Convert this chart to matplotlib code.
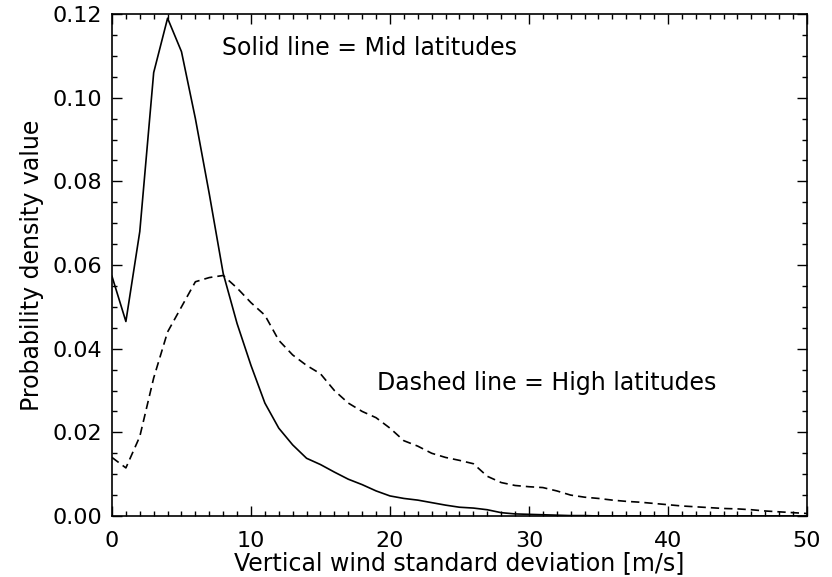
import numpy as np
import matplotlib
matplotlib.use('Agg')
import matplotlib.pyplot as plt
from matplotlib.ticker import MultipleLocator

# wind speed std dev bins [m/s]
x = np.arange(0, 51)

# solid line, mid latitudes
mid = [0.0573, 0.0465, 0.068, 0.106, 0.119, 0.111, 0.095, 0.077, 0.058, 0.046,
       0.036, 0.027, 0.021, 0.017, 0.0138, 0.0123, 0.0105, 0.0088, 0.0075, 0.006,
       0.0048, 0.0042, 0.0038, 0.0032, 0.0026, 0.0021, 0.0019, 0.0015, 0.0008, 0.0005,
       0.0004, 0.0003, 0.0002, 0.0001, 0.0001, 0.0, 0.0, 0.0, 0.0, 0.0,
       0.0, 0.0, 0.0, 0.0, 0.0, 0.0, 0.0, 0.0, 0.0, 0.0, 0.0]

# dashed line, high latitudes
high = [0.014, 0.0115, 0.019, 0.033, 0.044, 0.050, 0.056, 0.057, 0.0575, 0.0545,
        0.051, 0.048, 0.042, 0.0385, 0.036, 0.034, 0.030, 0.027, 0.025, 0.0235,
        0.021, 0.018, 0.0167, 0.015, 0.014, 0.0133, 0.0125, 0.0095, 0.008, 0.0073,
        0.007, 0.0068, 0.006, 0.005, 0.0045, 0.0042, 0.0038, 0.0035, 0.0033, 0.003,
        0.0027, 0.0024, 0.0022, 0.002, 0.0018, 0.0017, 0.0015, 0.0012, 0.001, 0.0008,
        0.0006]

fig = plt.figure(figsize=(8.32, 5.77), dpi=100)
ax = fig.add_axes([0.1346, 0.1057, 0.8353, 0.870])

ax.plot(x, mid, color='k', lw=1.2)
ax.plot(x, high, color='k', lw=1.2, linestyle=(0, (5, 3)))

ax.set_xlim(0, 50)
ax.set_ylim(0, 0.12)
ax.xaxis.set_major_locator(MultipleLocator(10))
ax.xaxis.set_minor_locator(MultipleLocator(1))
ax.yaxis.set_major_locator(MultipleLocator(0.02))
ax.yaxis.set_minor_locator(MultipleLocator(0.005))
ax.yaxis.set_major_formatter(plt.FormatStrFormatter('%.2f'))

ax.tick_params(which='both', direction='in', top=True, right=True, labelsize=16, colors='k')
ax.tick_params(which='major', length=7.2, width=1)
ax.tick_params(which='minor', length=3.6, width=1)
ax.tick_params(axis='x', which='major', pad=11)
ax.tick_params(axis='y', which='major', pad=7)
for s in ax.spines.values():
    s.set_linewidth(1.2)

ax.set_xlabel('Vertical wind standard deviation [m/s]', fontsize=17, labelpad=0)
ax.set_ylabel('Probability density value', fontsize=17, labelpad=6)

ax.text(7.9, 0.1102, 'Solid line = Mid latitudes', fontsize=17, va='baseline')
ax.text(19.1, 0.0301, 'Dashed line = High latitudes', fontsize=17, va='baseline')

fig.savefig('out.png', dpi=100)
